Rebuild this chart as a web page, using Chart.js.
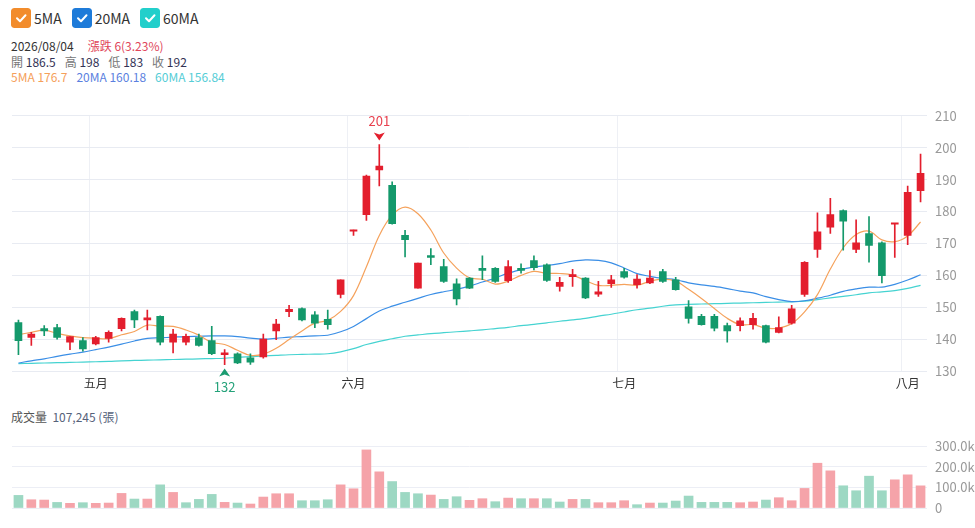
<!DOCTYPE html>
<html><head><meta charset="utf-8">
<script src="https://cdn.jsdelivr.net/npm/chart.js@4.4.1/dist/chart.umd.min.js"></script>
<style>
html,body{margin:0;padding:0;background:#fff;}
body{width:975px;height:528px;position:relative;overflow:hidden;font-family:"Noto Sans CJK TC","Noto Sans",sans-serif;}
#legend{position:absolute;left:11px;top:8px;height:20px;display:flex;align-items:center;}
.lg{display:flex;align-items:center;margin-right:10px;font-size:14px;color:#333;line-height:20px;}
.box{width:20px;height:20px;border-radius:3px;margin-right:3px;display:block;}
.info{position:absolute;left:11px;font-size:12px;line-height:16px;white-space:nowrap;color:#333;}
.info span{margin-right:9px;}
.lab{color:#777;}
.val{color:#333355;}
#p{position:absolute;left:0;top:100px;}
#v{position:absolute;left:0;top:430px;}
#vt{position:absolute;left:11px;top:409px;font-size:12px;line-height:16px;color:#555;white-space:nowrap;}
</style></head><body>
<div id="legend">
 <div class="lg"><svg class="box" viewBox="0 0 20 20"><rect width="20" height="20" rx="3" fill="#F28C2C"/><path d="M6 10.3 L9 13.3 L14.5 7.3" stroke="#fff" stroke-width="2" fill="none" stroke-linecap="round" stroke-linejoin="round"/></svg>5MA</div>
 <div class="lg"><svg class="box" viewBox="0 0 20 20"><rect width="20" height="20" rx="3" fill="#1E7BD9"/><path d="M6 10.3 L9 13.3 L14.5 7.3" stroke="#fff" stroke-width="2" fill="none" stroke-linecap="round" stroke-linejoin="round"/></svg>20MA</div>
 <div class="lg"><svg class="box" viewBox="0 0 20 20"><rect width="20" height="20" rx="3" fill="#22CFCB"/><path d="M6 10.3 L9 13.3 L14.5 7.3" stroke="#fff" stroke-width="2" fill="none" stroke-linecap="round" stroke-linejoin="round"/></svg>60MA</div>
</div>
<div class="info" style="top:38px"><span style="margin-right:14px">2026/08/04</span><span style="color:#E0465A">漲跌 6(3.23%)</span></div>
<div class="info" style="top:54px"><span><b class="lab" style="font-weight:normal">開</b> <b class="val" style="font-weight:normal">186.5</b></span><span><b class="lab" style="font-weight:normal">高</b> <b class="val" style="font-weight:normal">198</b></span><span><b class="lab" style="font-weight:normal">低</b> <b class="val" style="font-weight:normal">183</b></span><span><b class="lab" style="font-weight:normal">收</b> <b class="val" style="font-weight:normal">192</b></span></div>
<div class="info" style="top:69px"><span style="color:#F5A05A">5MA 176.7</span><span style="color:#5B7FE0">20MA 160.18</span><span style="color:#55CDD6">60MA 156.84</span></div>
<canvas id="p" width="975" height="300"></canvas>
<div id="vt">成交量 &nbsp;<span style="color:#56627a">107,245 (張)</span></div>
<canvas id="v" width="975" height="98"></canvas>
<script>
const categories = [
 '2026/04/23','2026/04/24','2026/04/27','2026/04/28','2026/04/29','2026/04/30',
 '2026/05/04','2026/05/05','2026/05/06','2026/05/07','2026/05/08','2026/05/11','2026/05/12','2026/05/13','2026/05/14','2026/05/15',
 '2026/05/18','2026/05/19','2026/05/20','2026/05/21','2026/05/22','2026/05/25','2026/05/26','2026/05/27','2026/05/28','2026/05/29',
 '2026/06/01','2026/06/02','2026/06/03','2026/06/04','2026/06/05','2026/06/08','2026/06/09','2026/06/10','2026/06/11','2026/06/12',
 '2026/06/15','2026/06/16','2026/06/17','2026/06/18','2026/06/22','2026/06/23','2026/06/24','2026/06/25','2026/06/26','2026/06/29','2026/06/30',
 '2026/07/01','2026/07/02','2026/07/03','2026/07/06','2026/07/07','2026/07/08','2026/07/09','2026/07/13','2026/07/14','2026/07/15','2026/07/16','2026/07/17',
 '2026/07/20','2026/07/21','2026/07/22','2026/07/23','2026/07/24','2026/07/27','2026/07/28','2026/07/29','2026/07/30','2026/07/31',
 '2026/08/03','2026/08/04'];
const monthNames = ['一月','二月','三月','四月','五月','六月','七月','八月','九月','十月','十一月','十二月'];
const openValues = [145.2,140.5,143.3,143.6,139.0,139.5,138.5,140.2,143.3,148.6,146.0,147.1,139.0,139.0,140.5,139.5,135.1,135.4,134.1,134.4,142.6,148.6,149.6,147.6,146.2,154.0,173.8,179.0,193.0,188.2,172.5,156.0,166.2,162.7,157.3,159.1,162.2,162.2,158.3,162.2,164.6,163.3,156.5,159.6,159.1,154.1,157.4,161.2,157.1,157.6,161.2,158.6,150.1,147.1,147.1,144.2,144.2,144.5,144.2,142.1,145.0,154.0,168.1,175.1,180.3,168.1,173.1,170.2,176.0,172.5,186.5];
const highValues = [146.0,142.1,144.2,144.6,140.8,140.5,140.9,142.6,146.7,149.1,149.1,147.3,143.1,141.6,141.6,144.0,136.7,135.7,135.4,141.6,146.2,150.6,149.8,148.6,149.1,158.6,174.2,191.4,201.0,189.3,174.1,163.8,168.4,165.0,158.9,159.3,166.1,162.4,164.6,163.6,166.1,163.6,159.4,161.9,159.3,158.1,160.0,162.2,160.2,161.5,161.9,159.4,152.1,147.8,147.8,145.0,146.7,148.1,144.4,147.0,150.6,164.3,179.6,184.1,180.5,177.4,178.4,170.5,176.2,188.0,198.0];
const lowValues = [135.1,138.0,141.1,140.0,136.7,136.2,138.2,139.0,142.6,143.6,142.9,138.2,135.7,138.2,137.8,135.1,132.0,132.3,132.1,134.0,139.8,147.0,145.7,143.6,143.1,152.9,172.5,177.2,188.0,176.0,165.8,156.0,163.3,157.8,150.7,155.8,158.6,157.8,157.8,160.7,161.7,158.1,155.0,156.5,152.7,153.4,156.2,159.1,156.0,157.4,157.8,155.3,145.0,144.4,142.6,139.0,142.6,143.1,138.8,141.9,144.7,153.4,165.6,173.1,167.9,167.1,164.1,157.6,165.6,169.6,183.0];
const closeValues = [139.5,141.6,142.6,140.5,140.8,136.9,140.5,142.1,146.5,146.0,146.7,139.0,141.6,140.9,138.0,135.4,135.7,132.5,132.8,140.0,144.7,149.3,146.0,145.0,144.5,158.6,174.1,191.1,194.2,176.2,171.2,163.8,165.6,158.1,152.6,156.0,161.5,158.1,162.7,161.5,162.4,158.4,157.8,160.2,152.9,154.8,158.6,159.4,158.8,159.1,158.1,155.5,146.5,144.5,143.4,142.6,145.7,146.5,139.0,143.6,149.5,164.1,173.6,179.0,177.0,170.2,169.4,159.9,176.2,186.0,192.0];
const volumeValues = [61000,40000,38500,27000,22500,25700,22500,24000,70600,43300,43300,112000,75400,25700,41700,65800,27300,24000,19300,53000,69000,69000,35300,35300,40000,112000,93000,281000,175000,128000,75400,69000,62600,41700,54600,37000,45000,30500,48000,45000,45000,45000,29000,41700,41700,25700,25700,35300,16000,24000,24000,33700,57800,27300,27300,27300,25700,29000,38500,49800,35300,94700,216700,179800,107500,83500,154000,83500,136400,160500,107245];
const ma5Values = [141.4,142.1,142.8,141.8,141.00,140.48,140.26,140.16,141.36,142.40,144.36,144.06,143.96,142.84,141.24,138.98,138.32,136.50,134.88,135.28,137.14,139.86,142.56,145.00,145.90,148.68,153.64,162.66,172.50,178.84,181.36,179.30,174.20,166.98,162.26,159.22,158.76,157.26,158.18,159.96,161.24,160.62,160.56,160.06,158.34,156.82,156.86,157.18,156.90,158.14,158.80,158.18,155.60,152.74,149.60,146.50,144.54,144.54,143.44,143.48,144.86,148.54,153.96,161.96,168.64,172.78,173.84,171.10,170.54,172.34,176.70];
const ma20Values = [132.5,133.2,133.8,134.6,135.3,135.9,136.7,137.5,138.4,139.4,140.2,140.4,140.6,140.8,140.9,141.0,141.0,140.8,140.3,139.98,140.24,140.63,140.80,141.02,141.21,142.29,143.97,146.42,148.81,150.32,151.54,152.78,153.98,154.84,155.57,156.60,157.89,159.17,160.67,161.74,162.63,163.08,163.67,164.43,164.85,164.66,163.89,162.30,160.53,159.68,159.02,158.61,157.65,156.97,156.51,155.84,155.05,154.47,153.29,152.39,151.75,152.03,152.82,153.76,154.97,155.74,156.28,156.30,157.17,158.52,160.18];
const ma60Values = [132.3,132.4,132.5,132.6,132.7,132.8,132.9,133.0,133.2,133.3,133.4,133.5,133.6,133.7,133.8,133.9,134.0,134.3,134.5,134.7,134.9,135.1,135.2,135.3,135.4,136.0,137.0,138.3,139.3,140.1,140.9,141.3,141.7,142.0,142.3,142.6,142.9,143.3,143.7,144.2,144.6,145.1,145.6,146.0,146.5,147.2,147.8,148.5,149.2,149.7,150.3,150.7,150.9,151.0,151.1,151.2,151.3,151.4,151.5,151.6,151.7,151.9,152.4,152.9,153.4,153.9,154.5,154.8,155.2,155.9,156.84];
const priceTicks = {min:130, max:210, step:10};
const volumeTicks = {min:0, max:300000, step:100000};

const RED = '#E31E2D', GREEN = '#14996B';
const RED_V = '#F5A3A9', GREEN_V = '#9DD8C3';
const GRID = '#E8EBF2';
Chart.defaults.font.family = '"Noto Sans CJK TC","Noto Sans",sans-serif';

const monthOf = i => +categories[i].slice(5,7);
const isMonthStart = i => typeof i === 'number' && i > 0 && i < categories.length && monthOf(i) !== monthOf(i-1);
const candleColor = c => closeValues[c.dataIndex] >= openValues[c.dataIndex] ? RED : GREEN;
const volColor = c => {
  const i = c.dataIndex;
  const up = i === 0 ? closeValues[0] >= openValues[0] : closeValues[i] >= closeValues[i-1];
  return up ? RED_V : GREEN_V;
};

const markerPlugin = {
  id: 'hiLo',
  afterDatasetsDraw(chart) {
    const ctx = chart.ctx, xs = chart.scales.x, ys = chart.scales.y;
    let hi = 0, lo = 0;
    highValues.forEach((v,i) => { if (v > highValues[hi]) hi = i; });
    lowValues.forEach((v,i) => { if (v < lowValues[lo]) lo = i; });
    ctx.save();
    ctx.font = '13px "Noto Sans CJK TC","Noto Sans",sans-serif';
    ctx.textAlign = 'center'; ctx.textBaseline = 'middle';
    const hx = xs.getPixelForValue(hi), hy = ys.getPixelForValue(highValues[hi]);
    ctx.fillStyle = RED;
    ctx.beginPath(); ctx.moveTo(hx, hy-4); ctx.lineTo(hx-5.5, hy-12); ctx.lineTo(hx, hy-10); ctx.lineTo(hx+5.5, hy-12); ctx.closePath(); ctx.fill();
    ctx.fillStyle = '#E8404E';
    ctx.fillText(String(Math.round(highValues[hi])), hx, hy-23);
    const lx = xs.getPixelForValue(lo), ly = ys.getPixelForValue(lowValues[lo]);
    ctx.fillStyle = '#1A9C70';
    ctx.beginPath(); ctx.moveTo(lx, ly+4); ctx.lineTo(lx-5.5, ly+12); ctx.lineTo(lx, ly+10); ctx.lineTo(lx+5.5, ly+12); ctx.closePath(); ctx.fill();
    ctx.fillStyle = '#25A27A';
    ctx.fillText(String(Math.round(lowValues[lo])), lx, ly+22);
    ctx.restore();
  }
};

const lineDs = (label, data, color) => ({type:'line', label, data, borderColor: color, borderWidth: 1.2, pointRadius: 0, tension: 0.35, fill: false, order: 2});

new Chart(document.getElementById('p'), {
  type: 'bar',
  data: {
    labels: categories,
    datasets: [
      lineDs('5MA', ma5Values, '#F5A25C'),
      lineDs('20MA', ma20Values, '#3A8EE6'),
      lineDs('60MA', ma60Values, '#45D3D1'),
      {label:'wick', data: categories.map((_,i) => [lowValues[i], highValues[i]]), backgroundColor: candleColor, barThickness: 1, grouped: false, order: 1},
      {label:'body', data: categories.map((_,i) => [openValues[i], closeValues[i]]), backgroundColor: candleColor, barThickness: 7, minBarLength: 1.5, grouped: false, order: 0}
    ]
  },
  options: {
    responsive: false, animation: false,
    layout: {padding: {left: 12, top: 13, right: 0, bottom: 0}},
    plugins: {legend: {display: false}, tooltip: {enabled: false}},
    scales: {
      x: {
        type: 'category', offset: true,
        grid: {offset: true, drawTicks: false, color: c => isMonthStart(c.index) ? '#EEF0F5' : 'rgba(0,0,0,0)'},
        border: {display: false},
        ticks: {autoSkip: false, maxRotation: 0, minRotation: 0, padding: 5, color: '#333', font: {size: 12},
          callback: (v, i) => isMonthStart(i) ? monthNames[monthOf(i)-1] : ''},
        afterFit: s => { s.height = 29; }
      },
      y: {
        position: 'right', min: priceTicks.min, max: priceTicks.max,
        grid: {drawTicks: false, color: GRID},
        border: {display: false},
        ticks: {stepSize: priceTicks.step, padding: 8, color: '#999', font: {size: 13}},
        afterFit: s => { s.width = 48; }
      }
    }
  },
  plugins: [markerPlugin]
});

new Chart(document.getElementById('v'), {
  type: 'bar',
  data: {
    labels: categories,
    datasets: [{label:'成交量', data: volumeValues, backgroundColor: volColor, barThickness: 9}]
  },
  options: {
    responsive: false, animation: false,
    layout: {padding: {left: 12, top: 16, right: 0, bottom: 20}},
    plugins: {legend: {display: false}, tooltip: {enabled: false}},
    scales: {
      x: {type: 'category', offset: true, display: false},
      y: {
        position: 'right', min: volumeTicks.min, max: volumeTicks.max,
        grid: {drawTicks: false, color: '#ECEEF5'},
        border: {display: false},
        ticks: {stepSize: volumeTicks.step, padding: 8, color: '#999', font: {size: 13},
          callback: v => v === 0 ? '0' : (v/1000).toFixed(1) + 'k'},
        afterFit: s => { s.width = 48; }
      }
    }
  }
});
</script>
</body></html>
